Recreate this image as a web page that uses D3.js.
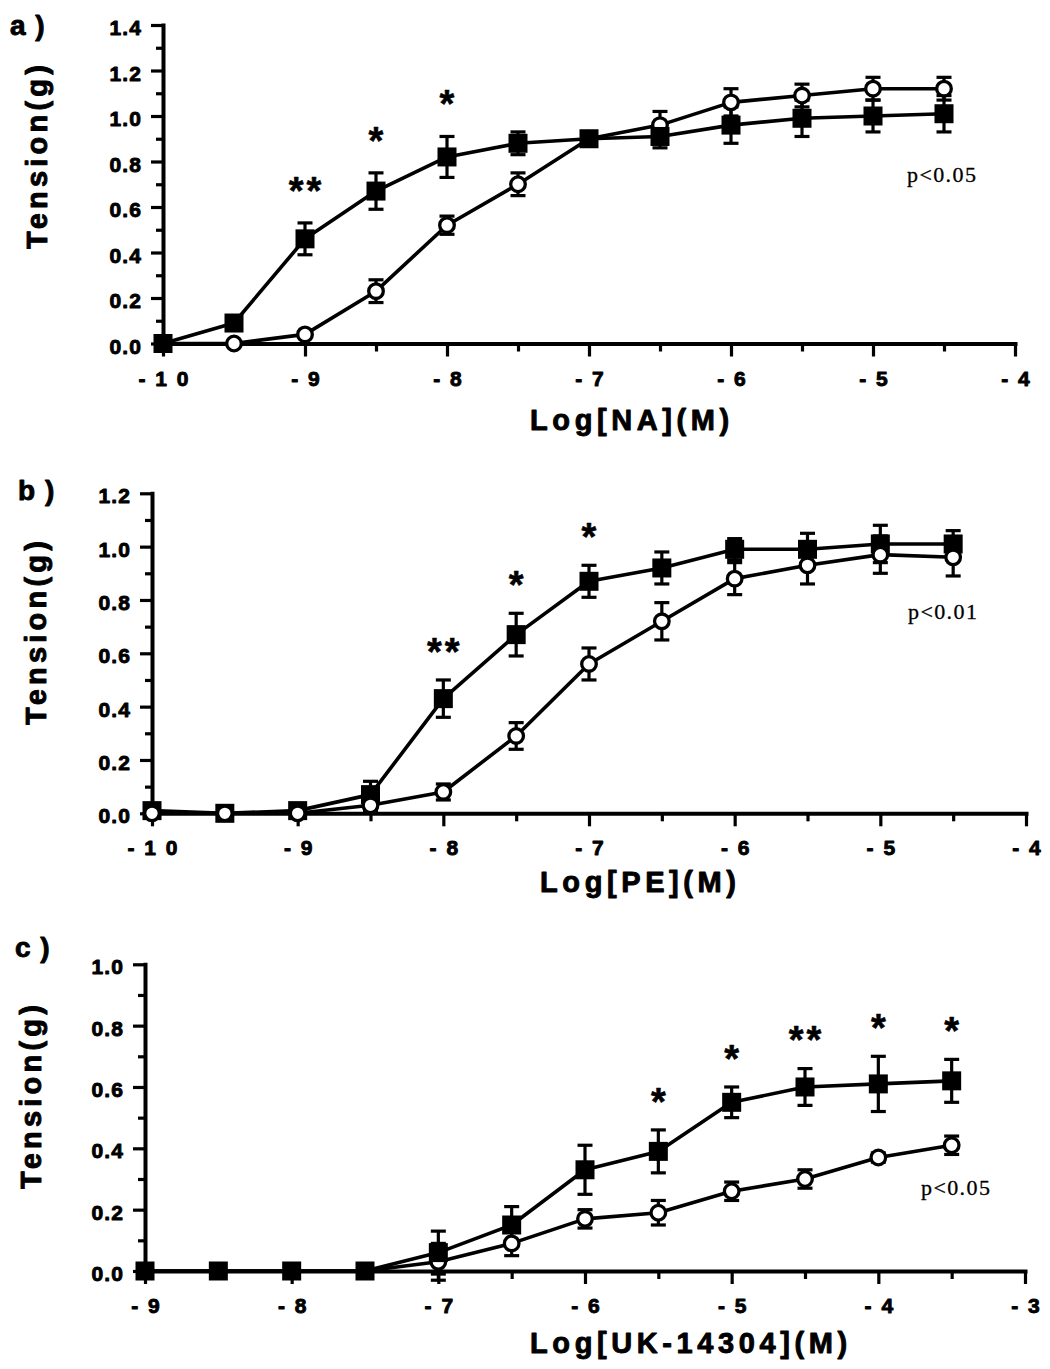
<!DOCTYPE html>
<html>
<head>
<meta charset="utf-8">
<script src="https://cdn.jsdelivr.net/npm/d3@7"></script>
<style>
  html, body { margin: 0; padding: 0; background: #fff; }
  svg { display: block; }
</style>
</head>
<body>
<svg id="fig" width="1050" height="1369"></svg>
<script>
// ---- a) noradrenaline concentration-response ----
const naLog        = [-10, -9.5, -9, -8.5, -8, -7.5, -7, -6.5, -6, -5.5, -5, -4.5];
const naFilled     = [0.00, 0.09, 0.46, 0.67, 0.82, 0.88, 0.90, 0.91, 0.96, 0.99, 1.00, 1.01];
const naFilledSem  = [0.00, 0.00, 0.07, 0.08, 0.09, 0.05, 0.03, 0.05, 0.08, 0.08, 0.07, 0.08];
const naOpen       = [0.00, 0.00, 0.04, 0.23, 0.52, 0.70, 0.90, 0.96, 1.06, 1.09, 1.12, 1.12];
const naOpenSem    = [0.00, 0.00, 0.01, 0.05, 0.04, 0.05, 0.02, 0.06, 0.06, 0.05, 0.05, 0.05];
const naStars      = ["", "", "**", "*", "*", "", "", "", "", "", "", ""];
const naXTicks     = [-10, -9, -8, -7, -6, -5, -4];
const naXTickText  = ["- 1 0", "- 9", "- 8", "- 7", "- 6", "- 5", "- 4"];
const naYTicks     = [0, 0.2, 0.4, 0.6, 0.8, 1.0, 1.2, 1.4];

// ---- b) phenylephrine concentration-response ----
const peLog        = [-10, -9.5, -9, -8.5, -8, -7.5, -7, -6.5, -6, -5.5, -5, -4.5];
const peFilled     = [0.01, 0.00, 0.01, 0.07, 0.43, 0.67, 0.87, 0.92, 0.99, 0.99, 1.01, 1.01];
const peFilledSem  = [0.00, 0.00, 0.01, 0.05, 0.07, 0.08, 0.06, 0.06, 0.04, 0.06, 0.07, 0.05];
const peOpen       = [0.00, 0.00, 0.00, 0.03, 0.08, 0.29, 0.56, 0.72, 0.88, 0.93, 0.97, 0.96];
const peOpenSem    = [0.00, 0.00, 0.01, 0.02, 0.03, 0.05, 0.06, 0.07, 0.06, 0.07, 0.07, 0.07];
const peStars      = ["", "", "", "", "**", "*", "*", "", "", "", "", ""];
const peXTicks     = [-10, -9, -8, -7, -6, -5, -4];
const peXTickText  = ["- 1 0", "- 9", "- 8", "- 7", "- 6", "- 5", "- 4"];
const peYTicks     = [0, 0.2, 0.4, 0.6, 0.8, 1.0, 1.2];

// ---- c) UK-14304 concentration-response ----
const ukLog        = [-9, -8.5, -8, -7.5, -7, -6.5, -6, -5.5, -5, -4.5, -4, -3.5];
const ukFilled     = [0.00, 0.00, 0.00, 0.00, 0.06, 0.15, 0.33, 0.39, 0.55, 0.60, 0.61, 0.62];
const ukFilledSem  = [0.00, 0.00, 0.00, 0.00, 0.07, 0.06, 0.08, 0.07, 0.05, 0.06, 0.09, 0.07];
const ukOpen       = [0.00, 0.00, 0.00, 0.00, 0.03, 0.09, 0.17, 0.19, 0.26, 0.30, 0.37, 0.41];
const ukOpenSem    = [0.00, 0.00, 0.00, 0.00, 0.06, 0.04, 0.03, 0.04, 0.03, 0.03, 0.015, 0.03];
const ukStars      = ["", "", "", "", "", "", "", "*", "*", "**", "*", "*"];
const ukXTicks     = [-9, -8, -7, -6, -5, -4, -3];
const ukXTickText  = ["- 9", "- 8", "- 7", "- 6", "- 5", "- 4", "- 3"];
const ukYTicks     = [0, 0.2, 0.4, 0.6, 0.8, 1.0];

const SANS  = '"Liberation Sans", Arial, Helvetica, sans-serif';
const SERIF = '"Liberation Serif", "Times New Roman", serif';

const svg = d3.select("#fig");

const panels = [
  {
    tag: "a )", tagPos: [10, 35],
    xs: naLog, filled: naFilled, filledSem: naFilledSem, open: naOpen, openSem: naOpenSem, stars: naStars,
    xTicks: naXTicks, xTickText: naXTickText, yTicks: naYTicks,
    xDomain: [-10, -4], xRange: [163, 1015], yDomain: [0, 1.4], yRange: [343.5, 25],
    yTitlePos: [47, 157], xTitle: "Log[NA](M)", xTitlePos: [530, 430],
    pText: "p<0.05", pPos: [907, 182], openOnTop: false, starGap: 41
  },
  {
    tag: "b )", tagPos: [18, 500],
    xs: peLog, filled: peFilled, filledSem: peFilledSem, open: peOpen, openSem: peOpenSem, stars: peStars,
    xTicks: peXTicks, xTickText: peXTickText, yTicks: peYTicks,
    xDomain: [-10, -4], xRange: [152, 1026], yDomain: [0, 1.2], yRange: [813.3, 493.3],
    yTitlePos: [45.5, 633], xTitle: "Log[PE](M)", xTitlePos: [540, 892],
    pText: "p<0.01", pPos: [908, 619], openOnTop: true, starGap: 37
  },
  {
    tag: "c )", tagPos: [15, 957],
    xs: ukLog, filled: ukFilled, filledSem: ukFilledSem, open: ukOpen, openSem: ukOpenSem, stars: ukStars,
    xTicks: ukXTicks, xTickText: ukXTickText, yTicks: ukYTicks,
    xDomain: [-9, -3], xRange: [145, 1025], yDomain: [0, 1.0], yRange: [1271, 964.3],
    yTitlePos: [40.5, 1097], xTitle: "Log[UK-14304](M)", xTitlePos: [530, 1353],
    pText: "p<0.05", pPos: [921, 1195], openOnTop: false, starGap: 37
  }
];

const TICK_FS = 21, TICK_LS = 1.2;
const TITLE_FS = 29, TITLE_LS = 4.6;
const STAR_FS = 38;
const INK = 0.9; // extra stroke that thickens the bold lettering

function heavy(sel, w) {
  return sel.attr("stroke", "#000").attr("stroke-width", w == null ? INK : w)
    .attr("stroke-linejoin", "round").attr("fill", "#000");
}

function drawPanel(p) {
  const g = svg.append("g");
  const x = d3.scaleLinear().domain(p.xDomain).range(p.xRange);
  const y = d3.scaleLinear().domain(p.yDomain).range(p.yRange);
  const x0 = x(p.xDomain[0]), y0 = y(0);

  // minor ticks every 0.1 on y, every 0.5 on x
  const yMinor = d3.range(0.1, p.yDomain[1], 0.2).map(v => +v.toFixed(2));
  const xMinor = d3.range(p.xDomain[0] + 0.5, p.xDomain[1], 1);

  const yAxisMinor = g.append("g").attr("transform", `translate(${x0},0)`)
    .call(d3.axisLeft(y).tickValues(yMinor).tickSize(7).tickSizeOuter(0).tickFormat(""));
  yAxisMinor.select(".domain").remove();

  const xAxisMinor = g.append("g").attr("transform", `translate(0,${y0})`)
    .call(d3.axisBottom(x).tickValues(xMinor).tickSize(8).tickSizeOuter(0).tickFormat(""));
  xAxisMinor.select(".domain").remove();

  const yAxis = g.append("g").attr("transform", `translate(${x0},0)`)
    .call(d3.axisLeft(y).tickValues(p.yTicks).tickSize(12).tickSizeOuter(0)
      .tickPadding(10).tickFormat(d3.format(".1f")));
  heavy(yAxis.selectAll("text")
    .attr("x", -22 + TICK_LS).attr("dy", "0.46em")
    .style("font-family", SANS).style("font-weight", "bold")
    .style("font-size", TICK_FS + "px").style("letter-spacing", TICK_LS + "px"));

  const xAxis = g.append("g").attr("transform", `translate(0,${y0})`)
    .call(d3.axisBottom(x).tickValues(p.xTicks).tickSize(13).tickSizeOuter(0)
      .tickFormat((d, i) => p.xTickText[i]));
  heavy(xAxis.selectAll("text")
    .attr("y", 42).attr("dy", 0).attr("dx", 1)
    .style("font-family", SANS).style("font-weight", "bold")
    .style("font-size", TICK_FS + "px").style("letter-spacing", "2px"));

  g.selectAll(".tick line").attr("stroke", "#000").attr("stroke-width", 3.2);
  g.selectAll(".domain").attr("stroke", "#000").attr("stroke-width", 4)
    .attr("stroke-linecap", "square");

  // data rows built from the value arrays
  const rows = (vals, sems) => p.xs.map((xv, i) => ({ x: xv, v: vals[i], e: sems[i] }));
  const filledRows = rows(p.filled, p.filledSem);
  const openRows = rows(p.open, p.openSem);

  const line = d3.line().x(d => x(d.x)).y(d => y(d.v));
  const plot = g.append("g");

  const drawErr = (data) => {
    const eb = plot.append("g").attr("stroke", "#000").attr("stroke-width", 3.2);
    data.filter(d => d.e > 0).forEach(d => {
      const cx = x(d.x), hi = y(d.v + d.e), lo = y(d.v - d.e);
      eb.append("line").attr("x1", cx).attr("x2", cx).attr("y1", hi).attr("y2", lo);
      eb.append("line").attr("x1", cx - 7.5).attr("x2", cx + 7.5).attr("y1", hi).attr("y2", hi);
      eb.append("line").attr("x1", cx - 7.5).attr("x2", cx + 7.5).attr("y1", lo).attr("y2", lo);
    });
  };

  const drawSeries = (data) => {
    plot.append("path").datum(data).attr("d", line)
      .attr("fill", "none").attr("stroke", "#000").attr("stroke-width", 3.6)
      .attr("stroke-linejoin", "round");
    drawErr(data);
  };
  const drawMarkers = (data, kind) => {
    if (kind === "open") {
      plot.append("g").selectAll("circle").data(data).join("circle")
        .attr("cx", d => x(d.x)).attr("cy", d => y(d.v)).attr("r", 7.3)
        .attr("fill", "#fff").attr("stroke", "#000").attr("stroke-width", 3.3);
    } else {
      plot.append("g").selectAll("rect").data(data).join("rect")
        .attr("x", d => x(d.x) - 9.5).attr("y", d => y(d.v) - 9.5)
        .attr("width", 19).attr("height", 19).attr("fill", "#000");
    }
  };

  drawSeries(openRows);
  drawSeries(filledRows);
  if (p.openOnTop) {
    drawMarkers(filledRows, "filled");
    drawMarkers(openRows, "open");
  } else {
    drawMarkers(openRows, "open");
    drawMarkers(filledRows, "filled");
  }

  // significance marks above the filled series error bars
  heavy(g.append("g").selectAll("text")
    .data(filledRows.map((d, i) => ({ ...d, s: p.stars[i] })).filter(d => d.s))
    .join("text")
    .attr("x", d => x(d.x) + 1.5)
    .attr("y", d => y(d.v + d.e) - p.starGap + 0.57 * STAR_FS)
    .attr("text-anchor", "middle")
    .style("font-family", SANS).style("font-weight", "bold")
    .style("font-size", STAR_FS + "px").style("letter-spacing", "3px")
    .text(d => d.s), 0.6);

  // panel tag
  heavy(g.append("text").attr("x", p.tagPos[0]).attr("y", p.tagPos[1])
    .style("font-family", SANS).style("font-weight", "bold").style("font-size", "28px")
    .style("letter-spacing", "1px").attr("xml:space", "preserve")
    .text(p.tag));

  // axis titles
  heavy(g.append("text")
    .attr("transform", `translate(${p.yTitlePos[0]},${p.yTitlePos[1]}) rotate(-90)`)
    .attr("text-anchor", "middle").attr("dx", 2)
    .style("font-family", SANS).style("font-weight", "bold")
    .style("font-size", TITLE_FS + "px").style("letter-spacing", "4.2px")
    .text("Tension(g)"));

  heavy(g.append("text").attr("x", p.xTitlePos[0]).attr("y", p.xTitlePos[1])
    .style("font-family", SANS).style("font-weight", "bold")
    .style("font-size", TITLE_FS + "px").style("letter-spacing", TITLE_LS + "px")
    .text(p.xTitle));

  // statistics note
  heavy(g.append("text").attr("x", p.pPos[0]).attr("y", p.pPos[1])
    .style("font-family", SERIF).style("font-size", "22px").style("letter-spacing", "1.4px")
    .text(p.pText), 0.3);
}

panels.forEach(drawPanel);
</script>
</body>
</html>
